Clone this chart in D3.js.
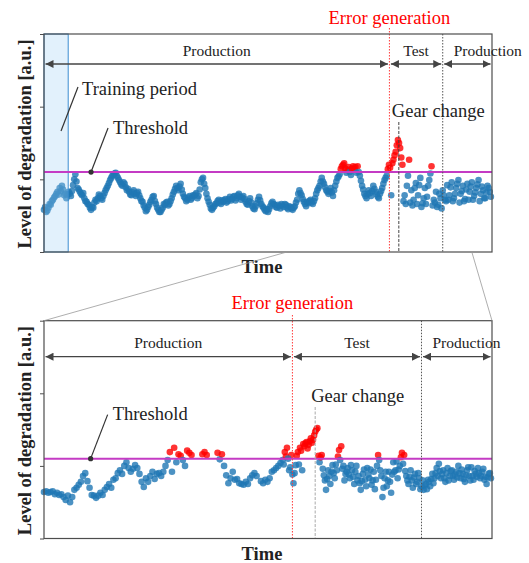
<!DOCTYPE html>
<html>
<head>
<meta charset="UTF-8">
<title>Level of degradation over time</title>
<style>
  body { margin: 0; background: #fff; }
  svg text { font-family: "Liberation Serif", "DejaVu Serif", serif; fill: #222; }
  .frame { fill: none; stroke: #4d4d4d; stroke-width: 1.2; }
  .blue { fill: #1f77b4; fill-opacity: 0.8; }
  .red { fill: #ff0000; fill-opacity: 0.8; }
</style>
</head>
<body>
<svg id="chart"></svg>
<script src="https://d3js.org/d3.v7.min.js"></script>
<script>
// level of degradation, full run: samples at t = 0, 5, 10, ...
var topStart = 0, topStep = 5;
var topLevels = [
  .58,.55,.61,.65,.72,.77,.83,.88,.91,.78,
  .74,.83,.77,.92,1.07,.88,.83,.78,.74,.69,
  .65,.58,.61,.72,.74,.77,.72,.81,.88,.95,
  1.02,1.06,1.09,1.02,.96,.91,.94,.85,.83,.78,
  .85,.77,.83,.74,.69,.61,.58,.65,.72,.77,
  .66,.58,.55,.61,.65,.69,.66,.74,.83,.91,
  .85,.94,.80,.74,.72,.77,.74,.77,.81,.77,
  .96,1.02,.88,.74,.65,.58,.63,.67,.72,.66,
  .69,.73,.70,.76,.73,.77,.74,.80,.72,.77,
  .69,.65,.74,.63,.59,.67,.76,.66,.61,.56,
  .55,.63,.69,.65,.61,.63,.66,.62,.65,.59,
  .62,.58,.63,.72,.85,.78,.69,.63,.67,.72,
  .66,.74,.85,.91,1.02,.94,.85,.80,.88,.77,
  .91,1.02,1.07,1.18,1.22,1.09,1.17,1.06,1.18,1.17,
  1.18,1.05,.91,.80,.74,.85,.77,.91,.83,.76,
  .80,.88,.99,1.05,1.20,.78,1.27,1.38,1.54,1.43,
  1.20,.78,.91,1.27,.85,.72,.95,.78,1.02,.67,
  .88,.76,.99,1.18,.72,.83,.65,.74,.85,.72,
  .92,.78,.96,.74,.88,.99,.80,.91,.73,.94,
  .83,.96,.77,.88,.99,.80,.85,.74,.91,.83
];
// in-between samples of the full run: t = 2.5, 7.5, 12.5, ...
var topLevelsMid = [
  .62,.57,.66,.70,.75,.80,.79,.84,.86,.80,
  .79,.80,.84,1.00,.97,.86,.80,.81,.70,.66,
  .61,.62,.68,.70,.79,.74,.77,.85,.91,.99,
  1.05,1.08,1.05,.99,.93,.96,.89,.87,.79,.82,
  .80,.81,.78,.70,.64,.56,.62,.69,.76,.70,
  .61,.55,.58,.66,.68,.64,.70,.79,.87,.88,
  .90,.86,.76,.70,.75,.72,.78,.79,.74,.86,
  1.00,.94,.80,.69,.60,.61,.66,.70,.68,.71,
  .71,.68,.73,.71,.76,.71,.78,.76,.75,.73,
  .66,.70,.68,.60,.63,.72,.71,.63,.58,.59,
  .59,.67,.66,.62,.65,.60,.64,.66,.61,.63,
  .60,.61,.68,.80,.81,.73,.66,.69,.70,.68,
  .70,.80,.88,.97,.97,.89,.83,.84,.82,.85,
  .97,1.04,1.14,1.20,1.15,1.13,1.10,1.15,1.14,1.09,
  1.10,.98,.86,.77,.80,.81,.84,.87,.79,.74,
  .84,.94,1.02,1.14,1.16,1.22,1.33,1.47,1.50,1.30,
  .70,.66,1.05,.68,.64,.88,.66,.92,.62,.74,
  .66,.91,1.08,.64,.68,.62,.80,.60,.78,.70,
  .72,.89,.70,.80,.94,.68,.84,.70,.86,.72,
  .90,.72,.82,.93,.70,.90,.74,.82,.88,.76
];

// zoomed part: samples at t = 542, 544, ..., null = no sample
var zoomStart = 542, zoomEnd = 955, zoomStep = 2;
var zoomLevels = [
  .64,.65,.63,.64,.65,.61,.63,.60,.61,.57,
  .53,.59,.50,.57,.67,.70,.74,.78,.86,.90,
  .79,.70,.60,.59,.56,.59,.63,.60,.67,.71,
  .75,.70,.81,.83,.90,.94,.89,1.00,1.05,.97,
  .92,.96,1.01,.97,.89,.78,.71,.83,.78,.86,
  .92,.82,.89,.90,.86,.92,1.00,1.08,1.19,.92,
  1.25,1.05,1.16,1.14,1.08,1.00,1.21,1.18,1.15,null,
  null,null,null,1.16,1.19,1.15,null,null,null,null,
  1.18,1.09,1.16,1.00,.87,.76,.83,.92,.81,.82,
  .76,.75,.74,.78,.75,.83,.87,.90,.86,null,
  .79,.76,.81,.78,.83,.92,.94,.97,1.00,1.04,
  1.08,1.19,1.25,.94,1.15,.76,1.01,1.19,1.25,.94,
  1.27,1.33,1.29,1.38,1.36,1.47,1.52,1.05,1.15,.87,
  .67,.94,.75,1.01,.83,.94,1.22,1.27,1.00,.89,
  .97,.83,.94,.75,1.00,.86,.67,.89,.81,.97,
  .83,.74,.92,.81,1.15,.94,.57,.83,.72,.92,
  .63,1.05,.94,.83,1.00,1.18,1.15,.86,.75,.94,
  .70,.89,.78,.83,.72,.67,.75,.81,.72,.89,
  .83,.97,1.03,.83,.94,.78,.97,.86,.94,.81,
  .92,1.00,.83,.89,.78,.94,.86,.98,.81,.89,
  .97,.83,.92,.81,.75,.89,.83
];
// in-between samples of the zoomed part from t = 763 on (763, 765, ...)
var zoomMidStart = 763;
var zoomLevelsMid = [
  1.02,1.13,1.10,.98,.88,.90,1.14,1.02,1.21,1.30,
  1.31,1.24,1.34,1.32,1.42,1.50,1.14,1.12,.96,.80,
  .82,.86,.92,.90,1.02,1.13,1.08,.96,.80,.92,
  .88,1.01,.85,.92,.80,.76,.79,.95,.72,.88,
  .95,.80,.68,1.00,1.08,.86,.70,.92,.80,.78,
  .88,.92,1.06,.95,1.12,1.03,.93,.80,.85,.80,
  .84,.75,.90,.68,.80,.73,.68,.78,.82,.76,
  .90,.86,.93,.89,.83,.90,.80,.93,.86,.88,
  .84,.90,.95,.82,.87,.98,.80,.86,.93,.85,
  .90,.86,.96,.85,.84,.90
];

var threshold = 1.1;
var yTicks = [0, 1, 2, 3];
var trainEnd = 54;
var errorTime = 771, gearTime = 792, testEnd = 890;
var sectionNames = ["Production", "Test", "Production"];

var W = 529, H = 563;
var svg = d3.select("#chart").attr("width", W).attr("height", H);

// arrow head
svg.append("defs").append("marker")
  .attr("id", "head")
  .attr("viewBox", "0 0 8 8")
  .attr("refX", 8).attr("refY", 4)
  .attr("markerWidth", 8).attr("markerHeight", 8)
  .attr("markerUnits", "userSpaceOnUse")
  .attr("orient", "auto-start-reverse")
  .append("path").attr("d", "M0,0L8,4L0,8Z").attr("fill", "#444");

function samples(levels, start, step) {
  return levels.map(function(v, i) { return {t: start + i * step, v: v}; })
    .filter(function(d) { return d.v !== null; });
}

function panel(o) {
  var x = d3.scaleLinear().domain(o.domain).range([44, 492]);
  var y = d3.scaleLinear().domain([0, 3]).range([o.bottom, o.top]);
  var g = svg.append("g");

  g.selectAll("circle.pt").data(o.points).join("circle")
    .attr("class", function(d) { return d.v > threshold ? "pt red" : "pt blue"; })
    .attr("cx", function(d) { return x(d.t); })
    .attr("cy", function(d) { return y(d.v); })
    .attr("r", 3.3);

  // training period
  if (o.training) {
    g.append("rect")
      .attr("x", x(0)).attr("y", o.top)
      .attr("width", x(trainEnd) - x(0)).attr("height", o.bottom - o.top)
      .attr("fill", "#9fd0f5").attr("fill-opacity", 0.3)
      .attr("stroke", "#3b8ed0").attr("stroke-width", 1);
  }

  // threshold
  g.append("line")
    .attr("x1", 44).attr("x2", 492)
    .attr("y1", y(threshold)).attr("y2", y(threshold))
    .attr("stroke", "#c43bc4").attr("stroke-width", 2);

  // event lines
  g.append("line")
    .attr("x1", x(errorTime)).attr("x2", x(errorTime))
    .attr("y1", o.errTop).attr("y2", o.bottom)
    .attr("stroke", "#ff3a3a").attr("stroke-width", 1).attr("stroke-dasharray", "1.5,1.5");
  g.append("line")
    .attr("x1", x(testEnd)).attr("x2", x(testEnd))
    .attr("y1", o.top).attr("y2", o.bottom)
    .attr("stroke", "#555").attr("stroke-width", 1).attr("stroke-dasharray", "1.5,1.5");
  g.append("line")
    .attr("x1", x(gearTime)).attr("x2", x(gearTime))
    .attr("y1", o.gearTop).attr("y2", o.bottom)
    .attr("stroke", o.gearColor).attr("stroke-width", 1).attr("stroke-dasharray", "3,1.5");

  // frame and ticks
  g.append("rect").attr("class", "frame")
    .attr("x", 44).attr("y", o.top).attr("width", 448).attr("height", o.bottom - o.top);
  var ax = g.append("g").attr("transform", "translate(44,0)")
    .call(d3.axisLeft(y).tickValues(yTicks).tickFormat("").tickSize(4));
  ax.select(".domain").remove();
  ax.selectAll("line").attr("stroke", "#4d4d4d");

  // sections with arrows
  var bounds = [o.domain[0], errorTime, testEnd, o.domain[1]];
  sectionNames.forEach(function(name, k) {
    var x0 = x(bounds[k]) + 1.5, x1 = x(bounds[k + 1]) - 1.5;
    g.append("line")
      .attr("x1", x0).attr("x2", x1).attr("y1", o.arrowY).attr("y2", o.arrowY)
      .attr("stroke", "#444").attr("stroke-width", 1.3)
      .attr("marker-start", "url(#head)").attr("marker-end", "url(#head)");
    var last = k === sectionNames.length - 1;
    g.append("text")
      .attr("x", last ? x(bounds[k]) + 11 : (x0 + x1) / 2)
      .attr("y", o.arrowY - 8.5)
      .attr("text-anchor", last ? "start" : "middle")
      .style("font-size", "15.5px")
      .text(name);
  });

  // labels
  g.append("text")
    .attr("x", x(errorTime)).attr("y", o.errTextY)
    .attr("text-anchor", "middle")
    .style("font-size", "18.5px").style("fill", "#ff0000")
    .text("Error generation");
  g.append("text")
    .attr("x", x(gearTime) + o.gearDx).attr("y", o.gearTop - 5)
    .style("font-size", "18.5px")
    .text("Gear change");

  // threshold callout
  var ty = y(threshold);
  g.append("line")
    .attr("x1", x(o.dotTime)).attr("y1", ty)
    .attr("x2", x(o.dotTime) + 17).attr("y2", ty - 44)
    .attr("stroke", "#333").attr("stroke-width", 1.2);
  g.append("circle").attr("cx", x(o.dotTime)).attr("cy", ty).attr("r", 2.6).attr("fill", "#333");
  g.append("text")
    .attr("x", x(o.dotTime) + 22).attr("y", ty - 38.5)
    .style("font-size", "18.5px")
    .text("Threshold");

  if (o.training) {
    g.append("line")
      .attr("x1", 61).attr("y1", 131).attr("x2", 78).attr("y2", 87)
      .attr("stroke", "#333").attr("stroke-width", 1.2);
    g.append("text").attr("x", 82).attr("y", 95)
      .style("font-size", "18.5px").text("Training period");
  }

  // axis titles
  g.append("text")
    .attr("transform", "translate(31," + ((o.top + o.bottom) / 2 + 1) + ") rotate(-90)")
    .attr("text-anchor", "middle")
    .style("font-size", "18.5px").style("font-weight", "bold")
    .text("Level of degradation [a.u.]");
  g.append("text")
    .attr("x", 262).attr("y", o.bottom + 21)
    .attr("text-anchor", "middle")
    .style("font-size", "18.5px").style("font-weight", "bold")
    .text("Time");

  return x;
}

var xTop = panel({
  domain: [0, 1000],
  points: samples(topLevels, topStart, topStep).concat(samples(topLevelsMid, topStart + topStep / 2, topStep)),
  top: 34, bottom: 252, training: true, errTop: 28, errTextY: 24,
  gearTop: 122, gearColor: "#444", gearDx: -7, arrowY: 64, dotTime: 105
});

panel({
  domain: [zoomStart, zoomEnd],
  points: samples(zoomLevels, zoomStart, zoomStep).concat(samples(zoomLevelsMid, zoomMidStart, zoomStep)),
  top: 320.7, bottom: 538.5, training: false, errTop: 315, errTextY: 309,
  gearTop: 407, gearColor: "#aaa", gearDx: -4, arrowY: 356.7, dotTime: 585
});

// zoom connectors
[[zoomStart, 44], [zoomEnd, 492]].forEach(function(c) {
  svg.append("line")
    .attr("x1", xTop(c[0])).attr("y1", 252)
    .attr("x2", c[1]).attr("y2", 320.7)
    .attr("stroke", "#999").attr("stroke-width", 0.8);
});
</script>
</body>
</html>
